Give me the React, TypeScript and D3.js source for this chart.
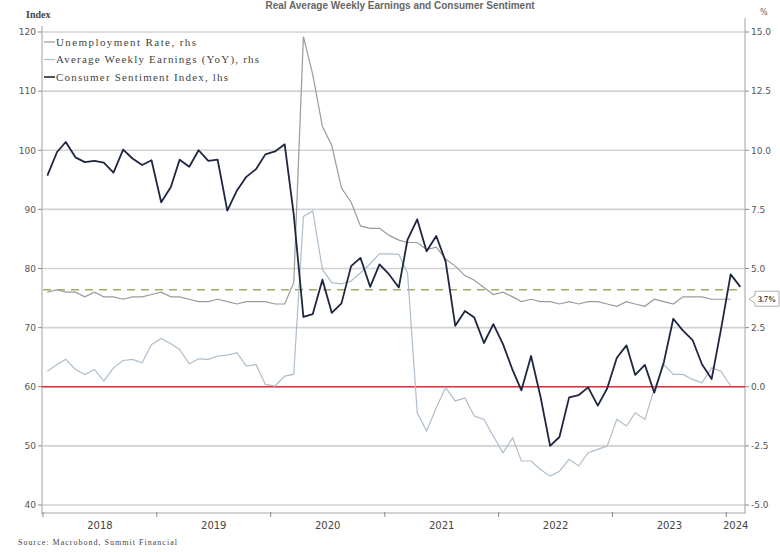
import React from "react";
import * as d3 from "d3";

const sentiment = [
  95.7, 99.7, 101.4, 98.8, 98.0, 98.2, 97.9, 96.2, 100.1, 98.6, 97.5, 98.3,
  91.2, 93.8, 98.4, 97.2, 100.0, 98.2, 98.4, 89.8, 93.2, 95.5, 96.8, 99.3,
  99.8, 101.0, 89.1, 71.8, 72.3, 78.1, 72.5, 74.1, 80.4, 81.8, 76.9, 80.7,
  79.0, 76.8, 84.9, 88.3, 82.9, 85.5, 81.2, 70.3, 72.8, 71.7, 67.4, 70.6,
  67.2, 62.8, 59.4, 65.2, 58.4, 50.0, 51.5, 58.2, 58.6, 59.9, 56.8, 59.7,
  64.9, 67.0, 62.0, 63.7, 59.0, 64.2, 71.5, 69.5, 67.9, 63.8, 61.3, 69.7,
  79.0, 76.9,
];

const unemployment = [
  4.0, 4.1, 4.0, 4.0, 3.8, 4.0, 3.8, 3.8, 3.7, 3.8, 3.8, 3.9,
  4.0, 3.8, 3.8, 3.7, 3.6, 3.6, 3.7, 3.6, 3.5, 3.6, 3.6, 3.6,
  3.5, 3.5, 4.4, 14.8, 13.2, 11.0, 10.2, 8.4, 7.8, 6.8, 6.7, 6.7,
  6.4, 6.2, 6.1, 6.1, 5.8, 5.9, 5.4, 5.1, 4.7, 4.5, 4.2, 3.9,
  4.0, 3.8, 3.6, 3.7, 3.6, 3.6, 3.5, 3.6, 3.5, 3.6, 3.6, 3.5,
  3.4, 3.6, 3.5, 3.4, 3.7, 3.6, 3.5, 3.8, 3.8, 3.8, 3.7, 3.7,
  3.7,
];

const earnings = [
  0.66, 0.94, 1.16, 0.73, 0.52, 0.73, 0.24, 0.8, 1.11, 1.16, 1.01, 1.79,
  2.04, 1.82, 1.58, 0.97, 1.18, 1.16, 1.3, 1.34, 1.44, 0.87, 0.94, 0.1,
  0.03, 0.45, 0.52, 7.2, 7.43, 4.96, 4.4, 4.35, 4.47, 4.82, 5.2, 5.62,
  5.62, 5.6, 4.8, -1.1, -1.87, -0.89, -0.04, -0.6, -0.47, -1.24, -1.38, -2.09,
  -2.79, -2.16, -3.14, -3.14, -3.5, -3.78, -3.57, -3.07, -3.35, -2.79, -2.65, -2.51,
  -1.38, -1.66, -1.1, -1.38, -0.11, 0.94, 0.52, 0.52, 0.31, 0.17, 0.8, 0.66,
  0.03,
];

const leftTicks = [40, 50, 60, 70, 80, 90, 100, 110, 120];
const rightTicks = [-5, -2.5, 0, 2.5, 5, 7.5, 10, 12.5, 15];
const years = [2018, 2019, 2020, 2021, 2022, 2023, 2024];
const referenceLevel = 4.1;
const legendItems = [
  { label: "Unemployment Rate, rhs", color: "#9a9a9a", w: 1.2, len: 140 },
  { label: "Average Weekly Earnings (YoY), rhs", color: "#aebdcc", w: 1.2, len: 203 },
  { label: "Consumer Sentiment Index, lhs", color: "#1e2640", w: 1.6, len: 172 },
];
const title = "Real Average Weekly Earnings and Consumer Sentiment";
const source = "Source: Macrobond, Summit Financial";

const W = 780;
const H = 552;
const L = 43;
const R = 745;
const T = 32;
const B = 505;

export default function App() {
  const x = d3
    .scaleTime()
    .domain([new Date(2018, 0, 1), new Date(2024, 2, 1)])
    .range([L, R]);
  const yL = d3.scaleLinear().domain([40, 120]).range([B, T]);
  const yR = d3.scaleLinear().domain([-5, 15]).range([B, T]);
  const dateAt = (i: number) => new Date(2018, i, 15);

  const lineL = d3
    .line<number>()
    .x((_, i) => x(dateAt(i)))
    .y((d) => yL(d));
  const lineR = d3
    .line<number>()
    .x((_, i) => x(dateAt(i)))
    .y((d) => yR(d));

  const lastU = unemployment[unemployment.length - 1];
  const cy = yR(lastU);
  const axisY = 513;

  return (
    <div style={{ position: "absolute", left: 0, top: 0 }}>
      <svg width={W} height={H} style={{ display: "block", background: "#fff" }}>
        {/* title */}
        <text
          x={400}
          y={9}
          textAnchor="middle"
          fontFamily="Liberation Sans, Arial, sans-serif"
          fontWeight="bold"
          fontSize={10}
          fill="#666"
        >
          {title}
        </text>

        {/* gridlines */}
        {leftTicks.map((t) => (
          <line key={"g" + t} x1={L - 1} x2={R} y1={yL(t)} y2={yL(t)} stroke="#d2d2d2" strokeWidth={1.6} />
        ))}

        {/* axes */}
        <line x1={L - 1} x2={L - 1} y1={26} y2={axisY + 1} stroke="#c4c4c4" strokeWidth={1.6} />
        <line x1={R} x2={R} y1={18} y2={axisY + 1} stroke="#c4c4c4" strokeWidth={1.6} />
        <line x1={L - 1} x2={R} y1={axisY} y2={axisY} stroke="#c4c4c4" strokeWidth={1.6} />

        {leftTicks.map((t) => (
          <g key={"lt" + t}>
            <line x1={L - 5} x2={L - 1} y1={yL(t)} y2={yL(t)} stroke="#888" strokeWidth={1} />
            <text
              x={L - 7}
              y={yL(t) + 3.3}
              textAnchor="end"
              fontFamily="DejaVu Sans, sans-serif"
              fontSize={9}
              fill="#555"
            >
              {t}
            </text>
          </g>
        ))}
        {rightTicks.map((t) => (
          <g key={"rt" + t}>
            <line x1={R} x2={R + 4} y1={yR(t)} y2={yR(t)} stroke="#888" strokeWidth={1} />
            <text
              x={R + 6}
              y={yR(t) + 3.3}
              fontFamily="DejaVu Sans, sans-serif"
              fontSize={9}
              fill="#555"
            >
              {t.toFixed(1)}
            </text>
          </g>
        ))}

        {years.map((yr) => {
          const x0 = x(new Date(yr, 0, 1));
          const x1 = Math.min(x(new Date(yr + 1, 0, 1)), R);
          return (
            <g key={"y" + yr}>
              <line x1={x0} x2={x0} y1={axisY - 1} y2={axisY + 4} stroke="#888" strokeWidth={1} />
              <text
                x={(x0 + x1) / 2}
                y={axisY + 16}
                textAnchor="middle"
                fontFamily="DejaVu Sans, sans-serif"
                fontSize={10}
                fill="#444"
              >
                {yr}
              </text>
            </g>
          );
        })}

        <text x={26} y={18} fontFamily="Liberation Serif, serif" fontWeight="bold" fontSize={10} fill="#444">
          Index
        </text>
        <text x={760} y={15} fontFamily="DejaVu Sans, sans-serif" fontSize={8} fill="#666">
          %
        </text>

        {/* zero line */}
        <line x1={L - 1} x2={R} y1={yR(0)} y2={yR(0)} stroke="#e0323a" strokeWidth={1.6} />
        {/* reference dashed */}
        <line
          x1={L}
          x2={x(new Date(2024, 1, 1)) + 2}
          y1={yR(referenceLevel)}
          y2={yR(referenceLevel)}
          stroke="#a3ad62"
          strokeWidth={1.6}
          strokeDasharray="8,6"
        />

        {/* series */}
        <path d={lineR(earnings) || ""} fill="none" stroke="#aebdcc" strokeWidth={1.2} />
        <path d={lineR(unemployment) || ""} fill="none" stroke="#9a9a9a" strokeWidth={1.2} />
        <path d={lineL(sentiment) || ""} fill="none" stroke="#1e2640" strokeWidth={1.8} strokeLinejoin="round" />

        {/* callout */}
        <path
          d={`M${R + 4},${cy} L${R + 10},${cy - 4} L${R + 10},${cy - 8} L${W - 1},${cy - 8} L${W - 1},${cy + 7} L${R + 10},${cy + 7} L${R + 10},${cy + 4} Z`}
          fill="#fff"
          stroke="#999"
          strokeWidth={0.8}
        />
        <text
          x={(R + 10 + W - 1) / 2}
          y={cy + 2.8}
          textAnchor="middle"
          fontFamily="Liberation Serif, serif"
          fontWeight="bold"
          fontSize={8}
          fill="#333"
        >
          {lastU.toFixed(1)}%
        </text>

        {/* legend */}
        {legendItems.map((it, i) => {
          const ly = 42 + i * 17.5;
          return (
            <g key={"lg" + i}>
              <line x1={44} x2={55} y1={ly} y2={ly} stroke={it.color} strokeWidth={it.w} />
              <text
                x={56}
                y={ly + 3.5}
                textLength={it.len}
                lengthAdjust="spacing"
                fontFamily="Liberation Serif, serif"
                fontSize={11}
                fill="#444"
              >
                {it.label}
              </text>
            </g>
          );
        })}

        <text
          x={18}
          y={545}
          textLength={159}
          lengthAdjust="spacing"
          fontFamily="Liberation Serif, serif"
          fontSize={8}
          fill="#444"
        >
          {source}
        </text>
      </svg>
    </div>
  );
}
